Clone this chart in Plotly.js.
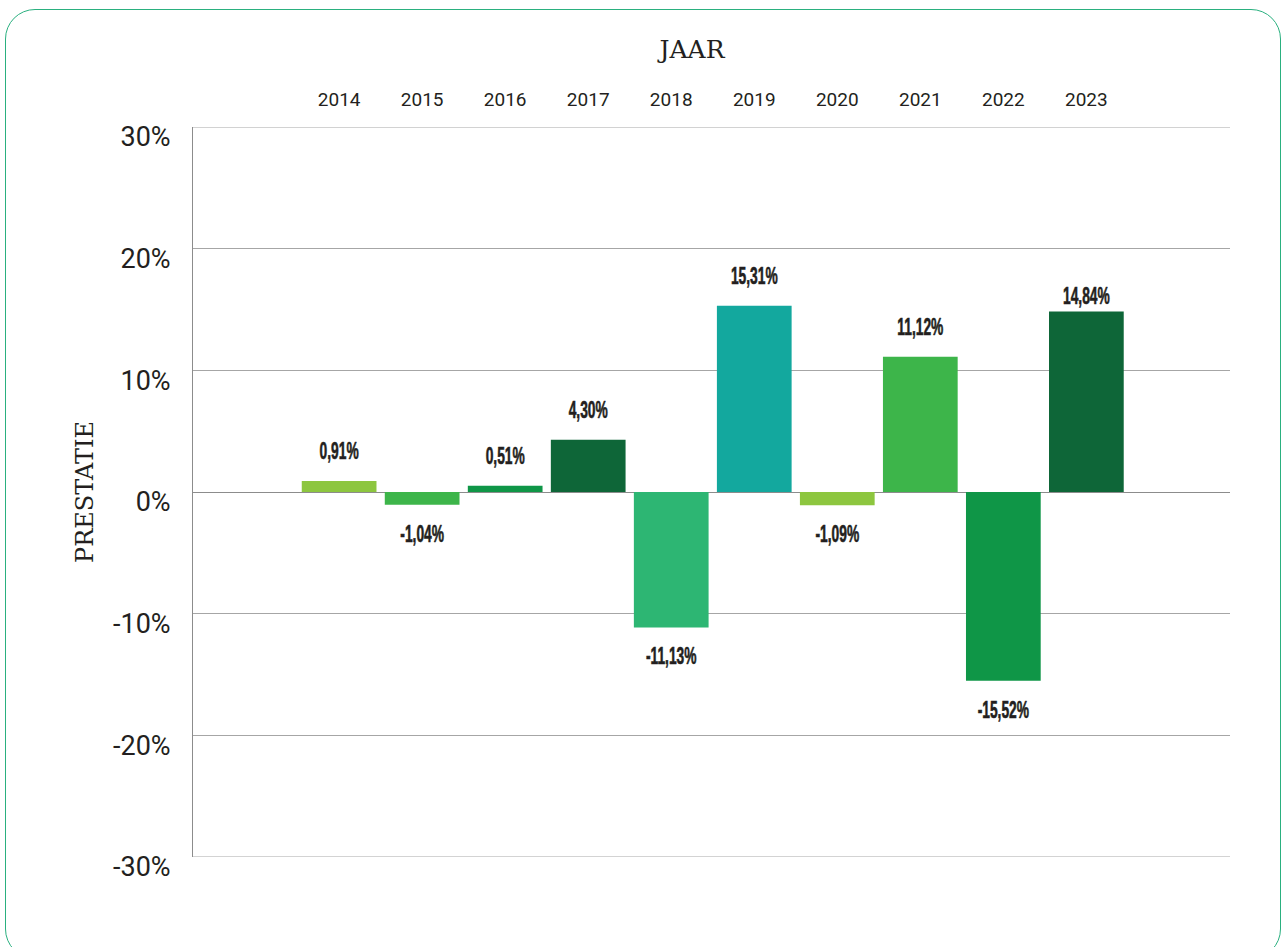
<!DOCTYPE html>
<html>
<head>
<meta charset="utf-8">
<script src="https://cdn.plot.ly/plotly-3.0.1.min.js"></script>
<style>
  html, body { margin: 0; padding: 0; background: #ffffff; width: 1283px; height: 947px; overflow: hidden; }
  #frame { position: absolute; left: 5px; top: 9px; width: 1276px; height: 950px; border: 1.5px solid #2ab07f; border-radius: 30px; box-sizing: border-box; }
  #chart { position: absolute; left: 0; top: 0; width: 1283px; height: 947px; }
  #chart .textpoint text {
    transform-box: fill-box;
    transform-origin: center;
    transform: scaleX(0.6);
    stroke: #231f20;
    stroke-width: 0.6px;
  }
</style>
</head>
<body>
<div id="frame"></div>
<div id="chart"></div>
<script>
const years = ["2014", "2015", "2016", "2017", "2018", "2019", "2020", "2021", "2022", "2023"];
const performance = [0.91, -1.04, 0.51, 4.30, -11.13, 15.31, -1.09, 11.12, -15.52, 14.84];
const valueLabels = ["0,91%", "-1,04%", "0,51%", "4,30%", "-11,13%", "15,31%", "-1,09%", "11,12%", "-15,52%", "14,84%"];
const barColors = ["#8dc63f", "#3db54a", "#0f9647", "#0e6638", "#2db673", "#13a89e", "#8dc63f", "#3db54a", "#0f9647", "#0e6638"];
const yTickValues = [-30, -20, -10, 0, 10, 20, 30];
const yTickLabels = ["-30%", "-20%", "-10%", "0%", "10%", "20%", "30%"];
// spacing between bar end and its label (invisible marker size), per label
const labelGap = [24, 30, 24, 24, 30, 24, 30, 24, 30, 1];

const bars = {
  type: "bar",
  x: years,
  y: performance,
  width: 0.9,
  marker: { color: barColors, line: { width: 0 } },
  hoverinfo: "x+y"
};

const labels = {
  type: "scatter",
  mode: "markers+text",
  x: years,
  y: performance,
  text: valueLabels,
  textposition: performance.map(v => v >= 0 ? "top center" : "bottom center"),
  textfont: { family: "Liberation Sans, Arial, sans-serif", size: 23, color: "#231f20", weight: 700 },
  marker: { size: labelGap, opacity: 0, color: "#ffffff" },
  cliponaxis: false,
  hoverinfo: "skip"
};

const serifFont = "DejaVu Serif, Liberation Serif, serif";

const layout = {
  width: 1283,
  height: 947,
  margin: { l: 193, r: 53, t: 127, b: 90, pad: 0 },
  paper_bgcolor: "rgba(0,0,0,0)",
  plot_bgcolor: "rgba(0,0,0,0)",
  showlegend: false,
  bargap: 0.1,
  title: {
    text: "JAAR",
    font: { family: serifFont, size: 25, color: "#231f20" },
    xref: "container", yref: "container",
    x: 692 / 1283, xanchor: "center",
    y: 1 - 49 / 947, yanchor: "middle"
  },
  xaxis: {
    type: "category",
    side: "top",
    range: [-1.76, 10.73],
    showgrid: false,
    zeroline: false,
    showline: false,
    ticks: "",
    tickfont: { family: "Roboto, Noto Sans, sans-serif", size: 19, color: "#231f20", weight: 400 },
    ticklabelstandoff: 16
  },
  yaxis: {
    range: [-30, 30],
    tickvals: yTickValues,
    ticktext: yTickLabels,
    showgrid: true,
    gridcolor: "#a6a6a6",
    gridwidth: 1,
    zeroline: true,
    zerolinecolor: "#8c8c8c",
    zerolinewidth: 1,
    showline: true,
    linecolor: "#8c8c8c",
    linewidth: 1,
    ticks: "",
    ticklabelstandoff: 16,
    ticklabelshift: 10,
    tickfont: { family: "Roboto, Noto Sans, sans-serif", size: 27, color: "#231f20" },
    title: { text: "PRESTATIE", font: { family: serifFont, size: 24, color: "#231f20" }, standoff: 12 }
  },
  shapes: [
    { type: "line", xref: "paper", yref: "y", x0: 0, x1: 1, y0: 30, y1: 30, line: { color: "#a6a6a6", width: 1 } },
    { type: "line", xref: "paper", yref: "y", x0: 0, x1: 1, y0: -30, y1: -30, line: { color: "#a6a6a6", width: 1 } }
  ]
};

Plotly.newPlot("chart", [bars, labels], layout, { displayModeBar: false, staticPlot: true });
</script>
</body>
</html>
